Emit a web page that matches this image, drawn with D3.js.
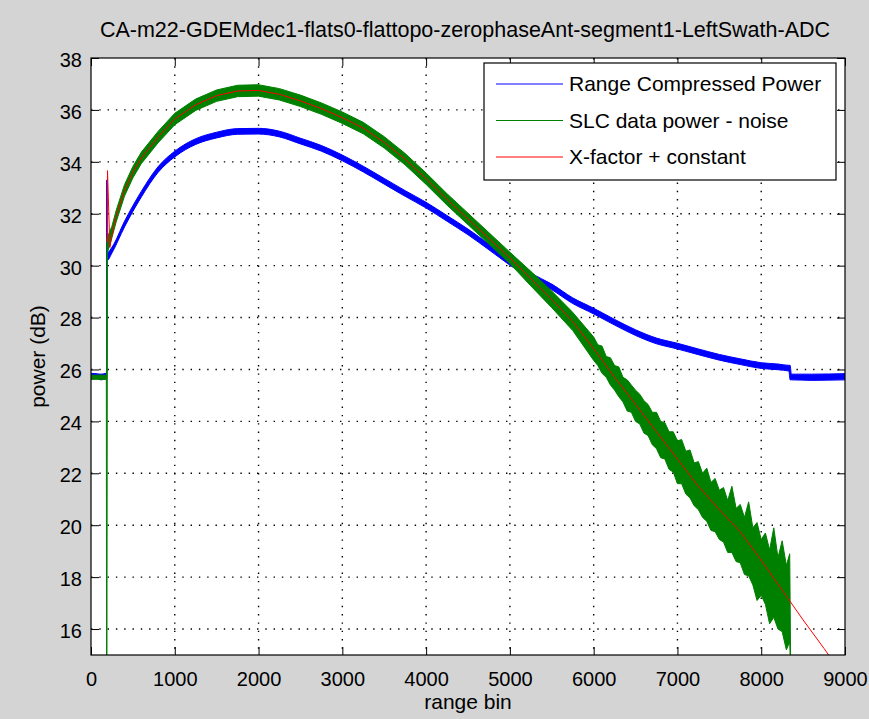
<!DOCTYPE html>
<html>
<head>
<meta charset="utf-8">
<script src="https://cdn.jsdelivr.net/npm/d3@7"></script>
<style>
  body { margin: 0; background: #d4d4d4; }
  text { font-family: "Liberation Sans", Arial, sans-serif; fill: #000; }
</style>
</head>
<body>
<svg id="chart" width="869" height="719"></svg>
<script>
// labels
const title = 'CA-m22-GDEMdec1-flats0-flattopo-zerophaseAnt-segment1-LeftSwath-ADC';
const xLabel = 'range bin';
const yLabel = 'power (dB)';
const xTicks = [0, 1000, 2000, 3000, 4000, 5000, 6000, 7000, 8000, 9000];
const yTicks = [16, 18, 20, 22, 24, 26, 28, 30, 32, 34, 36, 38];
const seriesNames = ['Range Compressed Power', 'SLC data power - noise', 'X-factor + constant'];
const seriesColors = ['#0000ff', '#008000', '#ff0000'];

// range compressed power: lower / upper edge of the noisy trace (dB)
const rcBins = [0, 60, 120, 185, 188, 191, 194, 250, 400, 600, 800, 1000, 1250, 1500, 1750, 2000,
  2250, 2500, 2750, 3000, 3250, 3500, 3750, 4000, 4250, 4500, 4750, 5000, 5250, 5500, 5750, 6000,
  6250, 6500, 6750, 7000, 7250, 7500, 7750, 8000, 8200, 8330, 8345, 8360, 8600, 9000];
const rcLow = [25.62, 25.66, 25.6, 25.64, 25.64, 30.2, 30.2, 30.49, 31.49, 32.64, 33.59, 34.19, 34.67, 34.92, 35.06, 35.07,
  34.96, 34.69, 34.41, 34.04, 33.61, 33.14, 32.67, 32.22, 31.71, 31.19, 30.61, 30.02, 29.49, 29.07, 28.54, 28.14,
  27.71, 27.31, 26.99, 26.79, 26.57, 26.36, 26.19, 26.04, 25.99, 25.94, 25.6, 25.6, 25.58, 25.6];
const rcHigh = [25.85, 25.84, 25.82, 25.86, 33.3, 33.3, 30.5, 30.71, 31.71, 32.86, 33.81, 34.41, 34.89, 35.14, 35.28, 35.29,
  35.18, 34.91, 34.63, 34.26, 33.83, 33.36, 32.89, 32.44, 31.93, 31.41, 30.83, 30.24, 29.71, 29.29, 28.76, 28.36,
  27.93, 27.53, 27.21, 27.01, 26.79, 26.58, 26.41, 26.26, 26.21, 26.16, 26.16, 25.82, 25.82, 25.84];

// SLC data power - noise: lower / upper edge of the noisy trace (dB)
const slcBins = [0, 183, 186, 190, 196, 250, 300, 400, 500, 600, 800, 1000, 1250, 1500, 1750, 2000,
  2250, 2500, 2750, 3000, 3250, 3500, 3750, 4000, 4250, 4500, 4750, 5000, 5250, 5500, 5750,
  6000, 6050, 6100, 6150, 6200, 6250, 6300, 6350, 6400, 6450, 6500, 6550, 6600, 6650, 6700, 6750,
  6800, 6850, 6900, 6950, 7000, 7050, 7100, 7150, 7200, 7250, 7300, 7350, 7400, 7450, 7500, 7550,
  7600, 7650, 7700, 7750, 7800, 7850, 7900, 7950, 8000, 8050, 8100, 8150, 8200, 8250, 8300, 8340, 8350];
const slcLow = [25.62, 25.62, 14.5, 14.5, 30.5, 31.08, 31.68, 32.68, 33.38, 33.93, 34.73, 35.43, 35.98, 36.33, 36.51, 36.53,
  36.38, 36.13, 35.83, 35.48, 35.08, 34.53, 33.88, 33.13, 32.33, 31.58, 30.83, 30.08, 29.22, 28.38, 27.5,
  26.35, 26.15, 25.85, 25.7, 25.4, 25.2, 24.95, 24.75, 24.4, 24.35, 24.0, 23.9, 23.55, 23.45, 23.1, 22.95,
  22.6, 22.55, 22.15, 22.05, 21.6, 21.6, 21.2, 21.05, 20.75, 20.6, 20.3, 20.15, 19.8, 19.75, 19.45, 19.35,
  18.95, 18.95, 18.6, 18.55, 18.1, 18.05, 17.7, 17.1, 17.3, 16.95, 16.2, 16.45, 16.0, 15.9, 15.2, 15.5, 14.5];
const slcHigh = [25.78, 25.78, 25.78, 31.1, 31.1, 31.52, 32.12, 33.12, 33.82, 34.37, 35.17, 35.87, 36.42, 36.77, 36.95, 36.97,
  36.82, 36.57, 36.27, 35.92, 35.52, 34.97, 34.32, 33.57, 32.77, 32.02, 31.27, 30.52, 29.78, 29.02, 28.2,
  27.25, 26.95, 26.9, 26.5, 26.45, 26.15, 26.1, 25.7, 25.6, 25.4, 25.2, 25.05, 24.8, 24.65, 24.35, 24.35,
  24.0, 23.95, 23.6, 23.6, 23.25, 23.3, 22.85, 22.9, 22.4, 22.45, 22.0, 22.2, 21.65, 21.8, 21.35, 21.45,
  20.95, 21.5, 20.65, 20.8, 20.3, 20.9, 19.9, 20.1, 19.45, 19.7, 19.05, 19.9, 18.75, 19.4, 18.45, 18.9, 15.2];

// X-factor + constant fit (dB)
const fitBins = [195, 197, 225, 260, 300, 400, 500, 600, 800, 1000, 1250, 1500, 1750, 2000, 2250, 2500,
  2750, 3000, 3250, 3500, 3750, 4000, 4250, 4500, 4750, 5000, 5250, 5500, 5750, 6000, 6250, 6500,
  6750, 7000, 7250, 7500, 7750, 8000, 8250, 8500, 8750, 9000];
const fitPower = [30.9, 33.66, 30.7, 31.35, 31.9, 32.9, 33.6, 34.15, 34.95, 35.65, 36.2, 36.55, 36.73, 36.75, 36.6, 36.35,
  36.05, 35.7, 35.3, 34.75, 34.1, 33.35, 32.55, 31.8, 31.05, 30.3, 29.5, 28.7, 27.85, 26.8, 25.7, 24.65,
  23.6, 22.55, 21.5, 20.6, 19.75, 18.65, 17.5, 16.35, 15.25, 14.1];

let margin = {top: 58, right: 24, bottom: 64, left: 91},
    width = 869 - margin.left - margin.right,
    height = 719 - margin.top - margin.bottom;

let svg = d3.select('#chart');

svg.append('rect')
  .attr('width', 869)
  .attr('height', 719)
  .attr('fill', '#d4d4d4');

let g = svg.append('g')
  .attr('transform', `translate(${margin.left}, ${margin.top})`);

let x = d3.scaleLinear().domain([0, 9000]).range([0, width]);
let y = d3.scaleLinear().domain([15, 38]).range([height, 0]);

g.append('rect')
  .attr('width', width)
  .attr('height', height)
  .attr('fill', '#fff');

g.append('clipPath').attr('id', 'plotClip')
  .append('rect').attr('width', width).attr('height', height);

// dotted grid
g.selectAll('.gridx')
  .data(xTicks.slice(1, -1))
  .enter().append('line')
    .attr('x1', d => x(d)).attr('x2', d => x(d))
    .attr('y1', 0).attr('y2', height)
    .attr('stroke', '#000')
    .attr('stroke-width', 1.4)
    .attr('stroke-dasharray', '1.4,6.9');

g.selectAll('.gridy')
  .data(yTicks.slice(0, -1))
  .enter().append('line')
    .attr('x1', 0).attr('x2', width)
    .attr('y1', d => y(d)).attr('y2', d => y(d))
    .attr('stroke', '#000')
    .attr('stroke-width', 1.4)
    .attr('stroke-dasharray', '1.4,6.9');

// data
let plot = g.append('g').attr('clip-path', 'url(#plotClip)');

let rcData = rcBins.map((b, i) => ({bin: b, lo: rcLow[i], hi: rcHigh[i]}));
let slcData = slcBins.map((b, i) => ({bin: b, lo: slcLow[i], hi: slcHigh[i]}));
let fitData = fitBins.map((b, i) => ({bin: b, v: fitPower[i]}));

let band = d3.area()
  .x(d => x(d.bin))
  .y0(d => y(d.lo))
  .y1(d => y(d.hi));

plot.append('path')
  .datum(rcData)
  .attr('d', band.curve(d3.curveMonotoneX))
  .attr('fill', seriesColors[0])
  .attr('stroke', seriesColors[0])
  .attr('stroke-width', 1);

plot.append('path')
  .datum(slcData)
  .attr('d', band.curve(d3.curveLinear))
  .attr('fill', seriesColors[1])
  .attr('stroke', seriesColors[1])
  .attr('stroke-width', 1);

plot.append('path')
  .datum(fitData)
  .attr('d', d3.line().x(d => x(d.bin)).y(d => y(d.v)))
  .attr('fill', 'none')
  .attr('stroke', seriesColors[2])
  .attr('stroke-width', 1);

// axes, ticks pointing inward on all four sides
function styleAxis(sel) {
  sel.select('.domain').remove();
  sel.selectAll('.tick line').attr('stroke', '#000');
  sel.selectAll('text')
    .style('font-family', '"Liberation Sans", Arial, sans-serif')
    .style('font-size', '20px')
    .attr('fill', '#000');
}

g.append('g')
  .attr('transform', `translate(0, ${height})`)
  .call(d3.axisBottom(x).tickValues(xTicks).tickSize(-8).tickPadding(17).tickFormat(d3.format('d')))
  .call(styleAxis);

g.append('g')
  .call(d3.axisTop(x).tickValues(xTicks).tickSize(-8).tickFormat(''))
  .call(styleAxis);

g.append('g')
  .call(d3.axisLeft(y).tickValues(yTicks).tickSize(-8).tickPadding(9).tickFormat(d3.format('d')))
  .call(styleAxis)
  .selectAll('text').attr('dy', '0.42em');

g.append('g')
  .attr('transform', `translate(${width}, 0)`)
  .call(d3.axisRight(y).tickValues(yTicks).tickSize(-8).tickFormat(''))
  .call(styleAxis);

g.append('rect')
  .attr('width', width)
  .attr('height', height)
  .attr('fill', 'none')
  .attr('stroke', '#000')
  .attr('stroke-width', 1.2);

// labels
svg.append('text')
  .attr('x', 465)
  .attr('y', 37)
  .attr('text-anchor', 'middle')
  .style('font-size', '21.5px')
  .text(title);

svg.append('text')
  .attr('x', margin.left + width / 2)
  .attr('y', 709)
  .attr('text-anchor', 'middle')
  .style('font-size', '21px')
  .text(xLabel);

svg.append('text')
  .attr('transform', `translate(45, ${margin.top + height / 2}) rotate(-90)`)
  .attr('text-anchor', 'middle')
  .style('font-size', '21px')
  .text(yLabel);

// legend
let legend = svg.append('g')
  .attr('transform', 'translate(484, 63)');

legend.append('rect')
  .attr('width', 352)
  .attr('height', 117)
  .attr('fill', '#fff')
  .attr('stroke', '#000')
  .attr('stroke-width', 1.2);

let item = legend.selectAll('.item')
  .data(seriesNames)
  .enter().append('g')
    .attr('transform', (d, i) => `translate(0, ${21 + i * 36.5})`);

item.append('line')
  .attr('x1', 12).attr('x2', 79)
  .attr('stroke', (d, i) => seriesColors[i])
  .attr('stroke-width', 1.2);

item.append('text')
  .attr('x', 85)
  .attr('y', 7)
  .style('font-size', '21px')
  .text(d => d);
</script>
</body>
</html>
